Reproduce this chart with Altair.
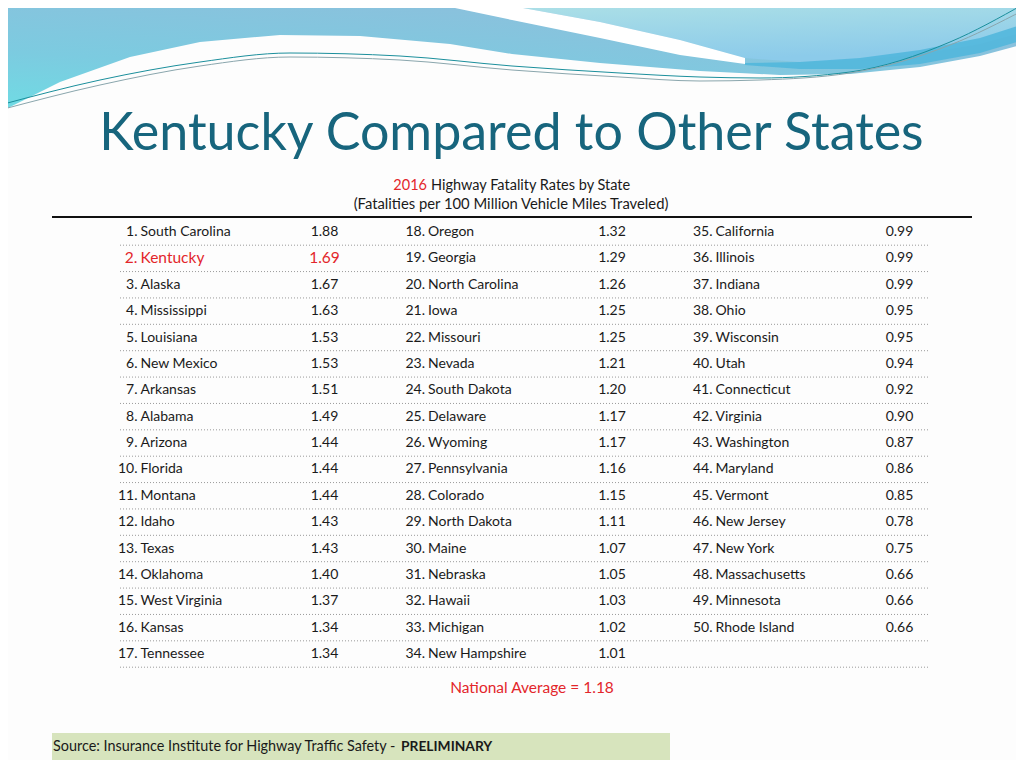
import altair as alt
import pandas as pd

# ---------------- data ----------------
states = ["South Carolina", "Kentucky", "Alaska", "Mississippi", "Louisiana", "New Mexico",
          "Arkansas", "Alabama", "Arizona", "Florida", "Montana", "Idaho", "Texas", "Oklahoma",
          "West Virginia", "Kansas", "Tennessee", "Oregon", "Georgia", "North Carolina", "Iowa",
          "Missouri", "Nevada", "South Dakota", "Delaware", "Wyoming", "Pennsylvania", "Colorado",
          "North Dakota", "Maine", "Nebraska", "Hawaii", "Michigan", "New Hampshire", "California",
          "Illinois", "Indiana", "Ohio", "Wisconsin", "Utah", "Connecticut", "Virginia",
          "Washington", "Maryland", "Vermont", "New Jersey", "New York", "Massachusetts",
          "Minnesota", "Rhode Island"]
rates = [1.88, 1.69, 1.67, 1.63, 1.53, 1.53, 1.51, 1.49, 1.44, 1.44, 1.44, 1.43, 1.43, 1.40,
         1.37, 1.34, 1.34, 1.32, 1.29, 1.26, 1.25, 1.25, 1.21, 1.20, 1.17, 1.17, 1.16, 1.15,
         1.11, 1.07, 1.05, 1.03, 1.02, 1.01, 0.99, 0.99, 0.99, 0.95, 0.95, 0.94, 0.92, 0.90,
         0.87, 0.86, 0.85, 0.78, 0.75, 0.66, 0.66, 0.66]
highlight = "Kentucky"
national_average = 1.18
year = "2016"
title_text = "Kentucky Compared to Other States"
subtitle_rest = "Highway Fatality Rates by State"
subtitle_2 = "(Fatalities per 100 Million Vehicle Miles Traveled)"
source_text = "Source: Insurance Institute for Highway Traffic Safety -"
source_bold = "PRELIMINARY"

# decorative wave outlines (slide background)
wave_x = [0, 60, 130, 200, 280, 360, 450, 512, 600, 700, 780, 850, 920, 980, 1024]
wave_low = [112, 82, 57, 42, 35, 36, 44, 54, 63, 71, 75, 74, 67, 56, 44]
light_x = [455, 512, 600, 680, 745, 800, 860, 920, 980, 1024]
light_low = [0, 6, 22, 40, 58, 62, 60, 54, 44, 32]
stripe_x = [455, 512, 600, 680, 745]
stripe_top = [0, 6, 22, 40, 58]
stripe_bot = [8, 20, 38, 55, 64]
dark_x = [745, 800, 860, 920, 980, 1024]
dark_top = [63, 62, 58, 50, 38, 24]
dark_bot = [65, 69, 69, 64, 53, 40]
line1_x = [0, 100, 200, 290, 400, 512, 620, 700, 760, 850, 950, 1024]
line1_y = [105, 80, 62, 53, 56, 66, 73, 77, 78, 72, 42, 4]
line2_x = [0, 100, 200, 290, 400, 512, 620, 700, 760, 850, 950, 1024]
line2_y = [110, 85, 66, 57, 60, 70, 77, 81, 80, 73, 45, 10]

# ---------------- styles ----------------
RED = "#e3262b"
INK = "#1a1a1a"
TEAL = "#17657d"
FONT = "Lato"
ROWS = 17

df = pd.DataFrame({"rank": list(range(1, len(states) + 1)), "state": states, "rate": rates})
df["col"] = (df["rank"] - 1) // ROWS
df["row"] = (df["rank"] - 1) % ROWS
df["y"] = 232 + df["row"] * 26.375
df["xr"] = 137.5 + 287.5 * df["col"]
df["xn"] = 140.5 + 287.5 * df["col"]
df["xv"] = 324.5 + 287.5 * df["col"]
df["rank_lbl"] = df["rank"].astype(str) + "."
df["val"] = df["rate"].map(lambda v: f"{v:.2f}")
df["hl"] = df["state"] == highlight

xs = alt.Scale(domain=[8, 1016], nice=False, zero=False)
ys = alt.Scale(domain=[8, 760], nice=False, zero=False, reverse=True)


def X(f):
    return alt.X(f, type="quantitative", scale=xs, axis=None)


def Y(f):
    return alt.Y(f, type="quantitative", scale=ys, axis=None)


def label(text, x, y, **kw):
    d = pd.DataFrame({"t": [text], "x": [x], "y": [y]})
    return alt.Chart(d).mark_text(baseline="middle", **kw).encode(
        x=X("x"), y=Y("y"), text="t:N")


# ---------------- background waves ----------------
wave_df = pd.DataFrame({"x": wave_x, "y0": [0] * len(wave_x), "y1": wave_low})
wave = alt.Chart(wave_df).mark_area(
    color=alt.LinearGradient(gradient="linear", x1=0.6, y1=0, x2=0, y2=1,
                             stops=[alt.GradientStop(color="#8dbfdc", offset=0),
                                    alt.GradientStop(color="#7ccbe0", offset=0.6),
                                    alt.GradientStop(color="#6fdce4", offset=1)])
).encode(x=X("x"), y=Y("y0"), y2="y1")

light_df = pd.DataFrame({"x": light_x, "y0": [0] * len(light_x), "y1": light_low})
light = alt.Chart(light_df).mark_area(
    color=alt.LinearGradient(gradient="linear", x1=0, y1=0, x2=0.3, y2=1,
                             stops=[alt.GradientStop(color="#b0e2e6", offset=0),
                                    alt.GradientStop(color="#8ccbea", offset=1)])
).encode(x=X("x"), y=Y("y0"), y2="y1")

stripe_df = pd.DataFrame({"x": stripe_x, "y0": stripe_top, "y1": stripe_bot})
stripe = alt.Chart(stripe_df).mark_area(color="#ffffff").encode(x=X("x"), y=Y("y0"), y2="y1")

dark_df = pd.DataFrame({"x": dark_x, "y0": dark_top, "y1": dark_bot})
dark = alt.Chart(dark_df).mark_area(color="#4fb6dc", opacity=0.85).encode(
    x=X("x"), y=Y("y0"), y2="y1")

l1 = alt.Chart(pd.DataFrame({"x": line1_x, "y": line1_y})).mark_line(
    strokeWidth=1, interpolate="monotone", color="#1b8f9c").encode(x=X("x"), y=Y("y"))
l2 = alt.Chart(pd.DataFrame({"x": line2_x, "y": line2_y})).mark_line(
    strokeWidth=1, interpolate="monotone", color="#8aa6ad").encode(x=X("x"), y=Y("y"))

# ---------------- header ----------------
title = label(title_text, 511.5, 134, font=FONT, fontSize=52, color=TEAL, align="center")
sub_year = label(year, 427, 186, font=FONT, fontSize=14.5, color=RED, align="right")
sub_rest = label(subtitle_rest, 431, 186, font=FONT, fontSize=14.5, color=INK, align="left")
sub2 = label(subtitle_2, 511, 205, font=FONT, fontSize=14.8, color=INK, align="center")

topline = alt.Chart(pd.DataFrame({"a": [52], "b": [972], "y": [217]})).mark_rule(
    color="#111111", strokeWidth=1.8).encode(x=X("a"), x2="b", y=Y("y"))

# ---------------- table ----------------
sep_df = pd.DataFrame({"y": [232 + (k + 0.5) * 26.375 for k in range(ROWS)],
                       "a": 120, "b": 930})
seps = alt.Chart(sep_df).mark_rule(color="#9a9a9a", strokeWidth=1, strokeDash=[1, 2]).encode(
    x=X("a"), x2="b", y=Y("y"))

color_enc = alt.condition("datum.hl", alt.value(RED), alt.value(INK))
size_enc = alt.condition("datum.hl", alt.value(15.5), alt.value(14))
base = alt.Chart(df)
t_rank = base.mark_text(font=FONT, align="right", baseline="middle").encode(
    x=X("xr"), y=Y("y"), text="rank_lbl:N", color=color_enc, size=size_enc)
t_name = base.mark_text(font=FONT, align="left", baseline="middle").encode(
    x=X("xn"), y=Y("y"), text="state:N", color=color_enc, size=size_enc)
t_val = base.mark_text(font=FONT, align="center", baseline="middle").encode(
    x=X("xv"), y=Y("y"), text="val:N", color=color_enc, size=size_enc)

# ---------------- footer ----------------
avg = label(f"National Average = {national_average:.2f}", 532, 688,
            font=FONT, fontSize=15.5, color=RED, align="center")

box = alt.Chart(pd.DataFrame({"a": [52], "b": [670], "y0": [733], "y1": [760]})).mark_rect(
    color="#d7e4bd").encode(x=X("a"), x2="b", y=Y("y0"), y2="y1")
src = label(source_text, 53, 747, font=FONT, fontSize=14.4, color=INK, align="left")
src_b = label(source_bold, 401, 747, font=FONT, fontSize=13.8, color=INK, align="left",
              fontWeight="bold")

chart = alt.layer(
    wave, light, stripe, dark, l1, l2, title, sub_year, sub_rest, sub2, topline, seps,
    t_rank, t_name, t_val, avg, box, src, src_b
).properties(
    width=1008, height=752, padding=0, autosize=alt.AutoSizeParams(type="none"),
    background="#fdfdfd"
).configure_view(stroke=None)

chart.save("out.html", embed_options={"renderer": "svg", "actions": False})
